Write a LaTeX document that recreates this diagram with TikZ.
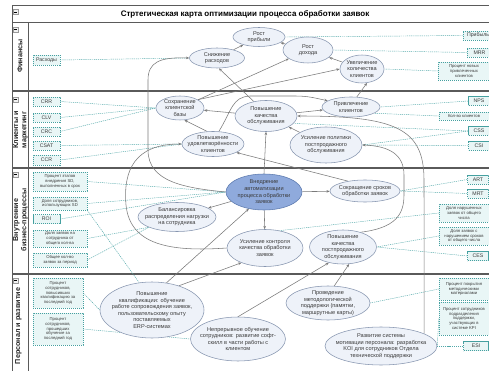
\documentclass[tikz,border=0pt]{standalone}
\usepackage{fontspec}
\setmainfont{Liberation Sans}
\usetikzlibrary{arrows.meta,shapes.geometric}

\definecolor{objfill}{HTML}{EEF2F9}
\definecolor{objdraw}{HTML}{8796B0}
\definecolor{hifill}{HTML}{8FAADC}
\definecolor{hidraw}{HTML}{5B79AE}
\definecolor{kpifill}{HTML}{E9F6F6}
\definecolor{kpidraw}{HTML}{45A0A0}
\definecolor{linkcol}{HTML}{53A9AA}
\definecolor{arrcol}{HTML}{7A7A7A}
\definecolor{txt}{HTML}{3A3A3A}
\definecolor{framecol}{HTML}{5A5A5A}

\pgfdeclarelayer{paper}
\pgfdeclarelayer{links}
\pgfsetlayers{paper,links,main}

\tikzset{
  obj/.style={ellipse, draw=objdraw, fill=objfill, line width=0.55pt, inner sep=0pt},
  objhi/.style={obj, draw=hidraw, fill=hifill},
  objtxt/.style={align=center, inner sep=0pt, text=txt, font=\fontsize{5.6}{6.6}\selectfont},
  kpibox/.style={rectangle, draw=kpidraw, fill=kpifill, line width=0.45pt, dash pattern=on 1.2pt off 0.8pt, inner sep=0pt},
  kpitxt/.style={align=center, inner sep=0pt, text=txt, font=\fontsize{4.2}{4.9}\selectfont},
  kpibig/.style={kpitxt, font=\fontsize{5.2}{6}\selectfont},
  arr/.style={draw=arrcol, line width=0.55pt, -{Stealth[length=3.3pt,width=2.6pt]}},
  link/.style={draw=linkcol, line width=0.45pt, dash pattern=on 1.2pt off 0.9pt},
  thinframe/.style={draw=framecol, line width=0.7pt},
  laneline/.style={draw=framecol, line width=1.3pt},
  lanelbl/.style={rotate=90, align=center, inner sep=0pt, text=black!85, font=\bfseries\fontsize{7.2}{8.2}\selectfont},
  minusbox/.style={rectangle, draw=gray!80, fill=gray!12, line width=0.4pt, minimum size=5pt, inner sep=0pt, font=\fontsize{4}{4}\selectfont}
}

% strategic objective: ellipse of fixed size with its caption
\newcommand{\goal}[6][obj]{%
  \node[#1, minimum width=#4pt, minimum height=#5pt] (#2) at (#3) {};
  \node[objtxt] (#2-t) at (#2) {#6};}
% indicator box of fixed size with its caption
\newcommand{\kpi}[6][kpitxt]{%
  \node[kpibox, minimum width=#4pt, minimum height=#5pt] (#2) at (#3) {};
  \node[#1] (#2-t) at (#2) {#6};}

\begin{document}
\begin{tikzpicture}[x=1pt, y=-1pt]
\useasboundingbox (0,0) rectangle (489,371);
\clip (0,0) rectangle (489,371);

\begin{pgfonlayer}{paper}
\fill[white] (0,0) rectangle (489,371);
% frame, title bar and perspective lanes
\draw[thinframe] (12,371) -- (12,5) -- (489,5);
\draw[thinframe] (12,22.5) -- (489,22.5);
\draw[thinframe] (28,22.5) -- (28,371);
\draw[laneline] (12,91) -- (489,91);
\draw[laneline] (12,168) -- (489,168);
\draw[laneline] (12,274) -- (489,274);
\end{pgfonlayer}

\node[font=\bfseries\fontsize{8}{9}\selectfont] (title) at (245,14) {Стртегическая карта оптимизации процесса обработки заявок};
\node[minusbox] (m0) at (15.5,12) {\rule{2.6pt}{0.5pt}};
\node[minusbox] (m1) at (15.5,29.5) {\rule{2.6pt}{0.5pt}};
\node[minusbox] (m2) at (15.5,99.5) {\rule{2.6pt}{0.5pt}};
\node[minusbox] (m3) at (15.5,174.5) {\rule{2.6pt}{0.5pt}};
\node[minusbox] (m4) at (15.5,280.5) {\rule{2.6pt}{0.5pt}};

\node[lanelbl] (lf) at (20,56) {Финансы};
\node[lanelbl] (lk) at (20.5,130) {Клиенты и\\маркетинг};
\node[lanelbl] (lv) at (20.5,220) {Внутренние\\бизнес-процессы};
\node[lanelbl] (lp) at (18.5,326) {Персонал и развитие};

% ---- objectives: finance
\goal{prib}{259,37}{52}{19}{Рост\\прибыли}
\goal{sniz}{217,58}{55}{20}{Снижение\\расходов}
\goal{dohod}{308,50}{50}{26}{Рост\\дохода}
\goal{uvel}{362,69}{44}{28}{Увеличение\\количества\\клиентов}
% ---- objectives: clients and marketing
\goal{sokhr}{180,108}{48}{24}{Сохранение\\клиентской\\базы}
\goal{udovl}{213,144}{62}{25}{Повышение\\удовлетворённости\\клиентов}
\goal{kach}{266,116}{62}{31}{Повышение\\качества\\обслуживания}
\goal{privl}{351,107}{58}{20}{Привлечение\\клиентов}
\goal{polit}{326,145}{72}{36}{Усиление политики\\постпродажного\\обслуживания}
% ---- objectives: internal processes
\goal[objhi]{vned}{264,192}{76}{36}{Внедрение\\автоматизации\\процесса обработки\\заявок}
\goal{balans}{177,217}{78}{29}{Балансировка\\распределения нагрузки\\на сотрудника}
\goal{sokr}{365,191}{70}{22}{Сокращение сроков\\обработки заявок}
\goal{kontr}{265,248}{76}{37}{Усиление контроля\\качества обработки\\заявок}
\goal{postp}{343,247}{67}{34}{Повышение\\качества\\постпродажного\\обслуживания}
% ---- objectives: staff and growth
\goal{kval}{152,310}{104}{56}{Повышение\\квалификации: обучение\\работе сопровождения заявок,\\пользовательскому опыту\\поставляемых\\ERP-системах}
\goal{nepr}{238,339}{95}{44}{Непрерывное обучение\\сотрудников: развитие софт-\\скилл в части работы с\\клиентом}
\goal{metod}{328,303}{84}{34}{Проведение\\методологической\\поддержки (памятки,\\маршрутные карты)}
\goal{motiv}{381,346}{112}{38}{Развитие системы\\мотивации персонала: разработка\\KOI для сотрудников Отдела\\технической поддержки}

% ---- indicators, left column
\kpi[kpibig]{rash}{46.5,60}{27}{10}{Расходы}
\kpi[kpibig]{crr}{46.5,101.5}{27}{9}{CRR}
\kpi[kpibig]{clv}{46.5,117.5}{27}{9}{CLV}
\kpi[kpibig]{crc}{46.5,131.5}{27}{9}{CRC}
\kpi[kpibig]{csat}{46.5,145.5}{27}{9}{CSAT}
\kpi[kpibig]{ccr}{46.5,160}{27}{10}{CCR}
\kpi{etap}{60,181.5}{54}{19}{Процент этапов\\внедрения SD,\\выполненных в срок}
\kpi{dolsd}{60,203.5}{54}{13}{Доля сотрудников,\\использующих SD}
\kpi[kpibig]{roi}{46.5,219}{27}{9}{ROI}
\kpi{dolzs}{60,238.5}{54}{17}{Доля заявок на\\сотрудника от\\общего кол-ва}
\kpi{obsh}{60,260}{54}{14}{Общее кол-во\\заявок за период}
\kpi{pkval}{58,293}{50}{30}{Процент\\сотрудников,\\повысивших\\квалификацию за\\последний год}
\kpi{pobuch}{58,329}{50}{32}{Процент\\сотрудников,\\прошедших\\обучение за\\последний год}
% ---- indicators, right column
\kpi[kpibig]{pribk}{478,35.5}{30}{9}{Прибыль}
\kpi[kpibig]{mrr}{479.5,52.5}{25}{9}{MRR}
\kpi{novk}{464,71}{52}{18}{Процент новых\\привлеченных\\клиентов}
\kpi[kpibig]{nps}{479,101}{21}{9}{NPS}
\kpi{kolvo}{464,116}{50}{8}{Кол-во клиентов}
\kpi[kpibig]{css}{479,131}{21}{9}{CSS}
\kpi[kpibig]{csi}{479,145.5}{21}{9}{CSI}
\kpi[kpibig]{art}{478,179.5}{21}{9}{ART}
\kpi[kpibig]{mrt}{478,193.5}{21}{9}{MRT}
\kpi{narush}{464,213}{50}{18}{Доля нарушенных\\заявок от общего\\числа}
\kpi{srok}{464,236}{50}{18}{Доля заявок с\\нарушением сроков\\от общего числа}
\kpi[kpibig]{ces}{478,256}{21}{9}{CES}
\kpi{pokr}{464,289}{50}{22}{Процент покрытия\\методическими\\материалами}
\kpi{pkpi}{464,318.5}{50}{33}{Процент сотрудников\\подразделения\\поддержки,\\участвующих в\\системе KPI}
\kpi[kpibig]{esi}{476,346}{25}{9}{ESI}

\begin{pgfonlayer}{links}
% ---- indicator links
\draw[link] (rash.east) -- (sniz.west);
\draw[link] (pribk.west) -- (prib.east);
\draw[link] (mrr.west) -- (dohod.east);
\draw[link] (novk.west) -- (uvel.east);
\draw[link] (crr.east) -- (sokhr.west);
\draw[link] (clv.east) -- (sokhr.west);
\draw[link] (crc.east) -- (sokhr.west);
\draw[link] (csat.east) -- (udovl.west);
\draw[link] (ccr.east) -- (udovl.west);
\draw[link] (nps.west) -- (privl.east);
\draw[link] (kolvo.west) -- (privl.345);
\draw[link] (css.west) -- (kach.345);
\draw[link] (css.west) -- (polit.east);
\draw[link] (csi.west) -- (polit.east);
\draw[link] (etap.east) -- (vned.west);
\draw[link] (dolsd.east) -- (vned.west);
\draw[link] (roi.east) -- (vned.west);
\draw[link] (dolsd.south east) -- (kval.115);
\draw[link] (dolzs.east) -- (balans.200);
\draw[link] (obsh.east) -- (balans.200);
\draw[link] (art.west) -- (sokr.east);
\draw[link] (mrt.west) -- (sokr.east);
\draw[link] (narush.west) -- (kontr.50);
\draw[link] (srok.west) -- (postp.east);
\draw[link] (ces.west) -- (postp.east);
\draw[link] (pkval.east) -- (kval.west);
\draw[link] (pobuch.east) -- (nepr.west);
\draw[link] (pokr.west) -- (metod.east);
\draw[link] (pkpi.west) -- (motiv.east);
\draw[link] (esi.west) -- (motiv.east);

% ---- cause and effect arrows
\draw[arr] (sniz) -- (prib);
\draw[arr] (dohod) -- (prib);
\draw[arr] (uvel) -- (dohod);
\draw[arr] (privl.60) -- (uvel.290);
\draw[arr] (sokhr) -- (dohod);
\draw[arr] (sokhr.25) -- (uvel.west);
\draw[arr] (kach.130) -- (sniz.280);
\draw[arr] (vned.west) .. controls (185,188) and (148,182) .. (148,150) -- (148,80)
  .. controls (148,62) and (160,57) .. (sniz.west);
\draw[arr] (kontr.west) .. controls (170,252) and (130,245) .. (126,205)
  .. controls (123,170) and (135,144) .. (udovl.west);
\draw[arr] (udovl.115) -- (sokhr.290);
\draw[arr] (kach) -- (sokhr);
\draw[arr] (kach) -- (privl);
\draw[arr] (udovl.65) .. controls (232,110) and (232,97) .. (250,96) -- (295,96)
  .. controls (308,96) and (315,98) .. (privl.165);
\draw[arr] (polit) -- (kach);
\draw[arr] (vned.north) -- (kach.south);
\draw[arr] (sokr.150) -- (udovl.340);
\draw[arr] (postp.40) .. controls (395,228) and (404,215) .. (404,195) -- (404,175)
  .. controls (404,155) and (390,146) .. (polit.east);
\draw[arr] (motiv.16) -- (424,180) .. controls (424,128) and (395,116) .. (kach.east);
\draw[arr] (vned) -- (sokr);
\draw[arr] (vned) -- (balans);
\draw[arr] (vned) -- (kontr);
\draw[arr] (kval.62) -- (vned.228);
\draw[arr] (kval.42) -- (kontr.212);
\draw[arr] (nepr.north) -- (postp.228);
\draw[arr] (metod.70) -- (postp.290);
\end{pgfonlayer}
\end{tikzpicture}
\end{document}
